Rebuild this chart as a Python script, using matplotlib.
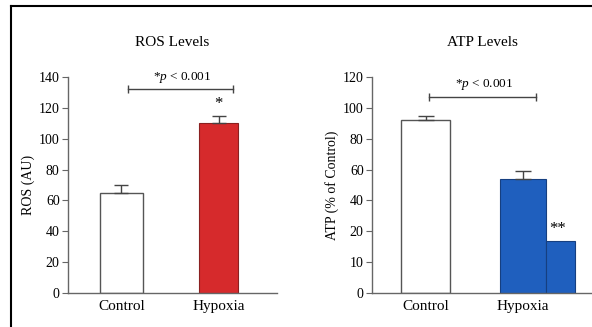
import numpy as np
import matplotlib.pyplot as plt
from matplotlib.lines import Line2D

plt.rcParams['font.family'] = ['Liberation Serif', 'DejaVu Serif']
plt.rcParams['mathtext.fontset'] = 'custom'
plt.rcParams['mathtext.it'] = 'Liberation Serif:italic'
plt.rcParams['mathtext.rm'] = 'Liberation Serif'

# ROS panel
ros_groups = ['Control', 'Hypoxia']
ros_values = [65, 110]
ros_err = [5, 5]
ros_ticks = [0, 20, 40, 60, 80, 100, 120, 140]

# ATP panel
atp_groups = ['Control', 'Hypoxia']
atp_values = [92, 54, 17]
atp_err = [3, 5, 0]
atp_ticks = [0, 10, 20, 40, 60, 80, 100, 120]

pval_text = r'*$p$ < 0.001'

red = '#d62a2c'
blue = '#1f5fbe'
edge = '#555555'

W, H = 592, 327
fig = plt.figure(figsize=(W / 100, H / 100), dpi=100)

def px_axes(x0, x1, ytop, ybot):
    return fig.add_axes([x0 / W, (H - ybot) / H, (x1 - x0) / W, (ybot - ytop) / H])

def style(ax):
    for s in ['top', 'right']:
        ax.spines[s].set_visible(False)
    for s in ['left', 'bottom']:
        ax.spines[s].set_color('#666666')
        ax.spines[s].set_linewidth(1.0)
    ax.tick_params(axis='y', length=4, width=0.8, color='#666666', labelsize=10, pad=2)
    ax.tick_params(axis='x', length=0, labelsize=11, pad=5)
    ax.set_facecolor('none')

# ---- ROS ----
ax1 = px_axes(68, 277, 77, 293)
style(ax1)
ax1.bar([0], ros_values[0], width=0.44, color='white', edgecolor=edge, linewidth=1.0)
ax1.bar([1], ros_values[1], width=0.40, color=red, edgecolor='#8a2020', linewidth=0.8)
ax1.errorbar([0, 1], ros_values, yerr=[[0, 0], ros_err], fmt='none',
             ecolor='#444444', elinewidth=1.0, capsize=5, capthick=1.0)
ax1.set_xlim(-0.55, 1.6)
ax1.set_ylim(0, 140)
ax1.set_yticks(ros_ticks)
ax1.set_xticks([0, 1])
ax1.set_xticklabels(ros_groups)
ax1.set_ylabel('ROS (AU)', fontsize=10, labelpad=3)
ax1.set_title('ROS Levels', fontsize=11, pad=22)
ax1.plot([0.07, 1.15], [132, 132], color='#444444', lw=1.0,
         marker='|', markersize=6, clip_on=False)
ax1.text(0.63, 135, pval_text, ha='center', va='bottom', fontsize=9.5)
ax1.text(1, 117, '*', ha='center', va='bottom', fontsize=12)

# ---- ATP ----
fwd = lambda v: np.interp(v, atp_ticks, np.arange(len(atp_ticks)), right=np.nan)
inv = lambda p: np.interp(p, np.arange(len(atp_ticks)), atp_ticks)
ax2 = px_axes(372, 592, 77, 293)
style(ax2)
ax2.set_yscale('function', functions=(fwd, inv))
ax2.bar([0], atp_values[0], width=0.50, color='white', edgecolor=edge, linewidth=1.0)
ax2.bar([1, 1.385], atp_values[1:], width=[0.47, 0.30], color=blue,
        edgecolor='#163f80', linewidth=0.8)
ax2.errorbar([0, 1], atp_values[:2], yerr=[[0, 0], atp_err[:2]], fmt='none',
             ecolor='#444444', elinewidth=1.0, capsize=6, capthick=1.0)
ax2.set_xlim(-0.55, 1.71)
ax2.set_ylim(0, 120)
ax2.set_yticks(atp_ticks)
ax2.set_yticklabels([str(t) for t in atp_ticks])
ax2.yaxis.set_minor_locator(plt.NullLocator())
ax2.set_xticks([0, 1])
ax2.set_xticklabels(atp_groups)
ax2.set_ylabel('ATP (% of Control)', fontsize=10, labelpad=3)
ax2.set_title('ATP Levels', fontsize=11, pad=22)
ax2.plot([0.04, 1.13], [107, 107], color='#444444', lw=1.0,
         marker='|', markersize=6, clip_on=False)
ax2.text(0.6, 110, pval_text, ha='center', va='bottom', fontsize=9.5)
ax2.text(1.36, 18, '**', ha='center', va='bottom', fontsize=12)

# frame lines (top and left border)
fig.add_artist(Line2D([10.5 / W, 1], [1 - 5.5 / H, 1 - 5.5 / H], color='black', lw=1.5,
                      transform=fig.transFigure))
fig.add_artist(Line2D([10.5 / W, 10.5 / W], [0, 1 - 5.5 / H], color='black', lw=1.5,
                      transform=fig.transFigure))

fig.savefig('out.png', dpi=100)
